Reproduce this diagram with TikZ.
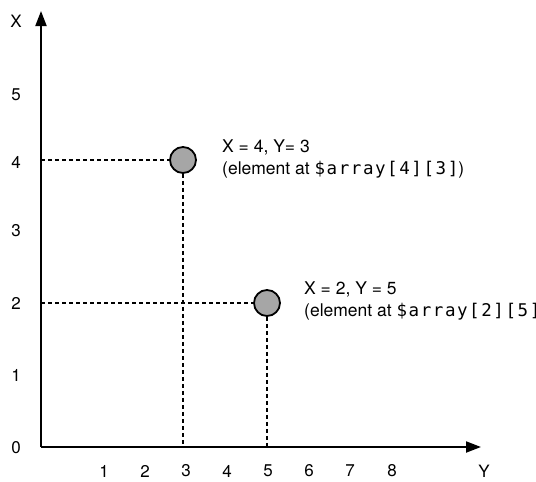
\documentclass[tikz,border=0pt]{standalone}
\usepackage{fontspec}
\setmainfont{TeX Gyre Heros}
\newfontfamily\codefont[LetterSpace=9]{DejaVu Sans Mono}
\usetikzlibrary{arrows.meta}
\begin{document}
\begin{tikzpicture}[x=1pt,y=-1pt,
  axis/.style={line width=2pt,-{Triangle[length=15pt,width=11pt]}},
  guide/.style={line width=1.6pt,dash pattern=on 4pt off 3pt},
  dot/.style={circle,draw,line width=1.8pt,fill=black!35,minimum size=26pt,inner sep=0pt},
  lab/.style={font=\fontsize{17}{19}\selectfont,inner sep=0pt},
  info/.style={font=\fontsize{17.5}{22}\selectfont,align=left,anchor=west,inner sep=0pt}]
\useasboundingbox (0,0) rectangle (536,482);
\coordinate (O) at (41,447);
\coordinate (xtip) at (41,11);
\coordinate (ytip) at (481,447);
\draw[axis] (O) -- (xtip);
\draw[axis] (O) -- (ytip);
\node[lab] (lx) at (16,21) {X};
\node[lab] (l5) at (16,95) {5};
\node[lab] (l4) at (16,162) {4};
\node[lab] (l3) at (16,231) {3};
\node[lab] (l2) at (16,303) {2};
\node[lab] (l1) at (16,375) {1};
\node[lab] (l0) at (16,448) {0};
\foreach \n/\xx in {1/104,2/145,3/186,4/227,5/268,6/309,7/350,8/392}
  \node[lab] (b\n) at (\xx,471) {\n};
\node[lab] (ly) at (484,471) {Y};
\node[dot] (p1) at (183,160) {};
\node[dot] (p2) at (267,303) {};
\coordinate (h1) at (41,160);
\coordinate (v1) at (183,447);
\coordinate (h2) at (41,303);
\coordinate (v2) at (267,447);
\draw[guide] (h1) -- (p1.west);
\draw[guide] (p1.south) -- (v1);
\draw[guide] (h2) -- (p2.west);
\draw[guide] (p2.south) -- (v2);
\node[info] (t1) at (222,159) {X = 4, Y= 3\\(element at {\codefont\$array[4][3]})};
\node[info] (t2) at (304,301) {X = 2, Y = 5\\(element at {\codefont\$array[2][5]}};
\end{tikzpicture}
\end{document}
